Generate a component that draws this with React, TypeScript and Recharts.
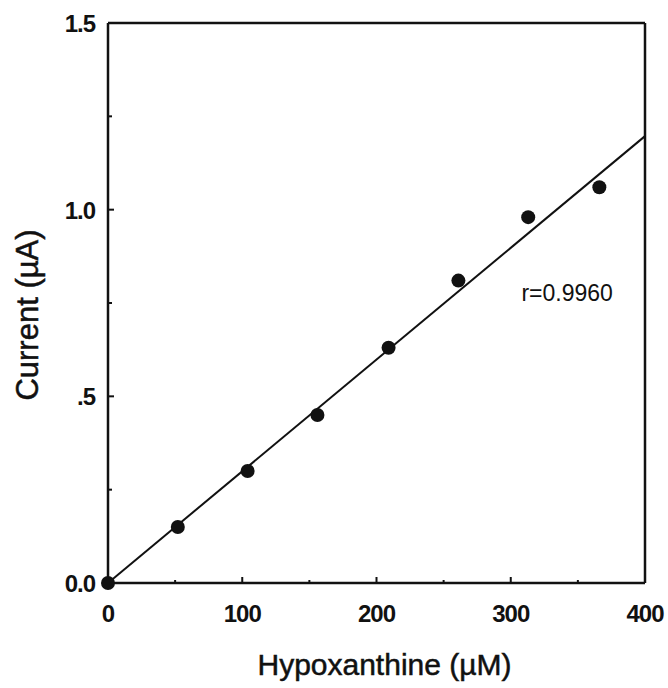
import React from "react";
import {
  ComposedChart,
  Scatter,
  Line,
  XAxis,
  YAxis,
  ReferenceLine,
  ReferenceDot,
} from "recharts";

// hypoxanthine concentration (uM) vs current (uA)
const concentration = [0, 52, 104, 156, 209, 261, 313, 366];
const current = [0, 0.15, 0.3, 0.45, 0.63, 0.81, 0.98, 1.06];

// least squares line, drawn across the whole axis
const fitX = [0, 400];
const fitY = [0, 1.197];

const xTicks = [0, 50, 100, 150, 200, 250, 300, 350, 400];
const xMajor = [0, 100, 200, 300, 400];
const yTicks = [0, 0.25, 0.5, 0.75, 1, 1.25, 1.5];
const yLabels: Record<string, string> = { "0": "0.0", "0.5": ".5", "1": "1.0", "1.5": "1.5" };

const points = concentration.map((x, i) => ({ x, y: current[i] }));
const fit = fitX.map((x, i) => ({ x, y: fitY[i] }));

const INK = "#111";
const tickFont = {
  fontFamily: "'Liberation Sans', Arial, sans-serif",
  fontWeight: 700,
  fontSize: 24,
  letterSpacing: -1,
  fill: INK,
};
const titleFont = {
  fontFamily: "'Liberation Sans', Arial, sans-serif",
  fontSize: 30,
  fill: INK,
  stroke: INK,
  strokeWidth: 0.5,
};

const XTick = (props: any) => {
  const { x, y, payload } = props;
  const major = xMajor.includes(payload.value);
  return (
    <g>
      <line x1={x} x2={x} y1={y} y2={y - (major ? 6 : 3)} stroke={INK} strokeWidth={2} />
      {major && (
        <text x={x} y={y + 39} textAnchor="middle" {...tickFont}>
          {payload.value}
        </text>
      )}
    </g>
  );
};

const YTick = (props: any) => {
  const { x, y, payload } = props;
  const label = yLabels[String(payload.value)];
  return (
    <g>
      <line x1={x} x2={x + (label ? 6 : 4)} y1={y} y2={y} stroke={INK} strokeWidth={2} />
      {label && (
        <text x={x - 13} y={y + 9} textAnchor="end" {...tickFont}>
          {label}
        </text>
      )}
    </g>
  );
};

const XTitle = ({ viewBox }: any) => (
  <text
    x={viewBox.x + viewBox.width / 2 + 8}
    y={viewBox.y + viewBox.height}
    textAnchor="middle"
    {...titleFont}
  >
    Hypoxanthine (µM)
  </text>
);

const YTitle = ({ viewBox }: any) => {
  const cx = viewBox.x + 30;
  const cy = viewBox.y + viewBox.height / 2 + 12;
  return (
    <text
      x={cx}
      y={cy}
      textAnchor="middle"
      transform={`rotate(-90, ${cx}, ${cy})`}
      {...titleFont}
      fontSize={31}
    >
      Current (µA)
    </text>
  );
};

export default function App() {
  return (
    <div style={{ position: "absolute", left: 0, top: 0, background: "#fff" }}>
      <ComposedChart
        width={668}
        height={688}
        data={points}
        margin={{ top: 23, right: 23, bottom: 13, left: 8 }}
      >
        <XAxis
          dataKey="x"
          type="number"
          domain={[0, 400]}
          ticks={xTicks}
          interval={0}
          height={92}
          tickSize={0}
          tickMargin={0}
          tickLine={false}
          tick={<XTick />}
          axisLine={{ stroke: INK, strokeWidth: 2.5 }}
          label={<XTitle />}
        />
        <YAxis
          dataKey="y"
          type="number"
          domain={[0, 1.5]}
          ticks={yTicks}
          interval={0}
          width={100}
          tickSize={0}
          tickMargin={0}
          tickLine={false}
          tick={<YTick />}
          axisLine={{ stroke: INK, strokeWidth: 2.5 }}
          label={<YTitle />}
        />
        <ReferenceLine y={1.5} stroke={INK} strokeWidth={2.5} />
        <ReferenceLine x={400} stroke={INK} strokeWidth={2.5} />
        <Line
          data={fit}
          dataKey="y"
          type="linear"
          stroke={INK}
          strokeWidth={2}
          dot={false}
          activeDot={false}
          legendType="none"
          isAnimationActive={false}
        />
        <Scatter
          data={points}
          dataKey="y"
          fill={INK}
          shape={(p: any) => <circle cx={p.cx} cy={p.cy} r={7} fill={INK} />}
          isAnimationActive={false}
        />
        <ReferenceDot
          x={342}
          y={0.777}
          r={0}
          fill="none"
          stroke="none"
          label={{
            value: "r=0.9960",
            position: "center",
            fontFamily: "'Liberation Sans', Arial, sans-serif",
            fontSize: 23,
            fill: INK,
          }}
        />
      </ComposedChart>
    </div>
  );
}
